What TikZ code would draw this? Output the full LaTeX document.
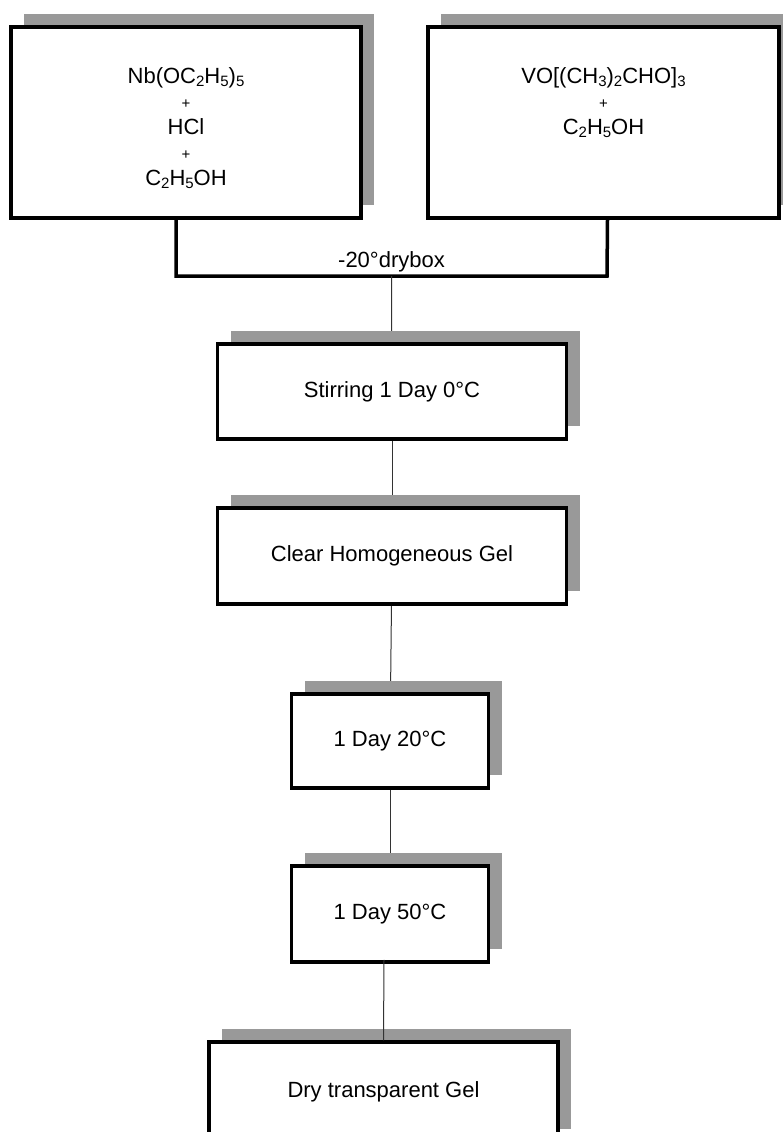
\documentclass[tikz,border=0pt]{standalone}
\usepackage{fontspec}
\setmainfont{Liberation Sans}
\usetikzlibrary{positioning,shadows,backgrounds}
\newcommand{\chemsub}[1]{\raisebox{-0.3ex}{\fontsize{15}{15}\selectfont#1}}
\newcommand{\plussign}{{\fontsize{15}{25.5}\selectfont+}}

\begin{document}
\begin{tikzpicture}[x=1pt,y=-1pt,
  box/.style={draw,line width=3.5pt,fill=white,inner sep=0pt,
    general shadow={fill=black!40,shadow xshift=13pt,shadow yshift=13pt}},
  txt/.style={font=\fontsize{22}{25.5}\selectfont,align=center,inner sep=0pt},
  feed/.style={line width=3.5pt},
  link/.style={line width=1pt,black!80}]
\useasboundingbox (0,0) rectangle (782,1132);
\node[box,minimum width=350pt,minimum height=191pt] (nb) at (186,122.5) {};
\node[box,minimum width=351pt,minimum height=191pt] (vo) at (603.5,122.5) {};
\node[txt,below=42pt of nb.north] (nbtxt) {Nb(OC\chemsub{2}H\chemsub{5})\chemsub{5}\\\plussign\\HCl\\\plussign\\C\chemsub{2}H\chemsub{5}OH};
\node[txt,below=42pt of vo.north] (votxt) {VO[(CH\chemsub{3})\chemsub{2}CHO]\chemsub{3}\\\plussign\\C\chemsub{2}H\chemsub{5}OH};
\node[box,txt,minimum width=349pt,minimum height=95pt] (stir) at (392,391.5) {Stirring 1 Day 0°C};
\node[box,txt,minimum width=349pt,minimum height=96pt] (clear) at (392,556) {Clear Homogeneous Gel};
\node[box,txt,minimum width=197pt,minimum height=94pt] (d20) at (390,741) {1 Day 20°C};
\node[box,txt,minimum width=197pt,minimum height=96pt] (d50) at (390,914) {1 Day 50°C};
\node[box,txt,minimum width=349pt,minimum height=100pt] (dry) at (383.5,1092) {Dry transparent Gel};
\coordinate (jl) at (176,276);
\coordinate (jr) at (607,276);
\begin{scope}[on background layer]
\draw[feed] ([xshift=-10pt]nb.south) -- (jl) -- node[txt,above=2pt] (drybox) {-20°drybox} coordinate (split) (jr) -- ([xshift=4pt]vo.south);
\draw[link] (split) -- (stir);
\draw[link] (stir) -- (clear);
\draw[link] (clear) -- (d20);
\draw[link] (d20) -- (d50);
\end{scope}
\draw[link] ([xshift=-6pt,yshift=4pt]d50.south) -- (dry.north);
\end{tikzpicture}
\end{document}
